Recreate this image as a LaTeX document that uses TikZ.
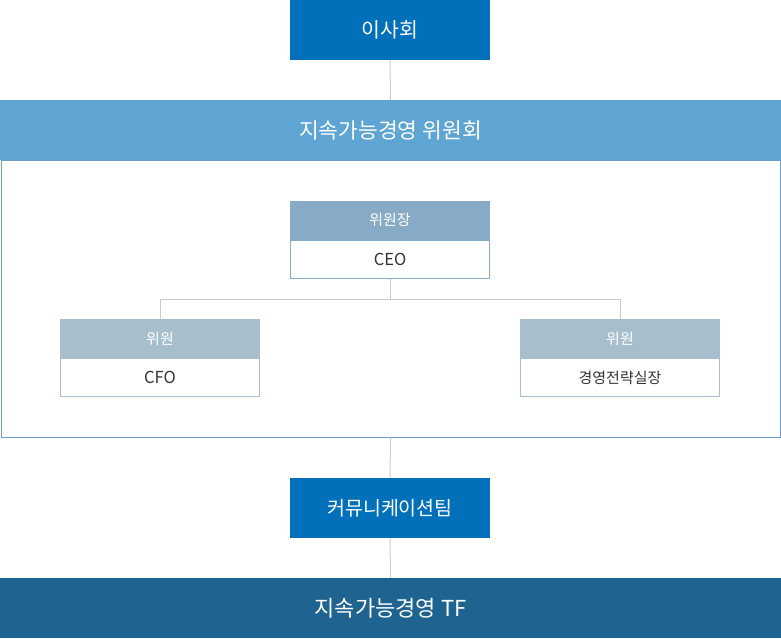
\documentclass[tikz,border=0pt]{standalone}
\usepackage{fontspec}
\setmainfont{Noto Sans CJK KR}
\definecolor{mainblue}{RGB}{0,112,186}
\definecolor{commblue}{RGB}{94,165,211}
\definecolor{framecol}{RGB}{106,156,200}
\definecolor{chairhead}{RGB}{135,170,198}
\definecolor{memhead}{RGB}{167,190,205}
\definecolor{tfblue}{RGB}{31,100,145}
\definecolor{linegray}{RGB}{204,204,204}
\definecolor{txt}{RGB}{51,51,51}
\begin{document}
\begin{tikzpicture}[x=1pt,y=-1pt,
  bar/.style={draw=none,inner sep=0pt,minimum width=#1,text=white},
  bigbox/.style={bar=200pt,fill=mainblue,minimum height=60pt},
  wide/.style={bar=781pt,minimum height=60pt,font=\fontsize{21.5}{24}\selectfont},
  headbox/.style={inner sep=0pt,minimum width=200pt,minimum height=39pt,text=white,font=\fontsize{15}{17}\selectfont},
  bodybox/.style={inner sep=0pt,minimum width=199pt,minimum height=38pt,fill=white,text=txt,font=\fontsize{15}{17}\selectfont},
  latin/.style={font=\fontsize{16.5}{18}\selectfont},
  conn/.style={draw=linegray,line width=1pt}]
\useasboundingbox (0,0) rectangle (781,638);
% frame
\node[draw=framecol,line width=1pt,inner sep=0pt,minimum width=779pt,minimum height=277pt] (frame) at (390.5,298.5) {};
% top
\node[bigbox,font=\fontsize{20.5}{23}\selectfont] (board) at (390,30) {이사회};
\node[wide,fill=commblue] (committee) at (390.5,130) {지속가능경영 위원회};
\draw[conn] (board.south) -- (committee.north);
% chair
\node[headbox,fill=chairhead] (chairh) at (390,220) {위원장};
\node[bodybox,latin,draw=chairhead,line width=1pt,anchor=north] (ceo) at (chairh.south) {CEO};
% members
\node[headbox,fill=memhead] (cfoh) at (160,338.5) {위원};
\node[bodybox,latin,draw=memhead,line width=1pt,anchor=north] (cfo) at (cfoh.south) {CFO};
\node[headbox,fill=memhead] (stratH) at (620,338.5) {위원};
\node[bodybox,draw=memhead,line width=1pt,anchor=north] (strat) at (stratH.south) {경영전략실장};
\coordinate (junc) at (390,299);
\draw[conn] (ceo.south) -- (junc);
\draw[conn] (junc) -| (cfoh.north);
\draw[conn] (junc) -| (stratH.north);
% bottom
\node[bigbox,font=\fontsize{19.5}{22}\selectfont] (comm) at (390,508) {커뮤니케이션팀};
\node[wide,fill=tfblue,font=\fontsize{22}{25}\selectfont] (tf) at (390.5,608) {지속가능경영 TF};
\draw[conn] (frame.south) -- (comm.north);
\draw[conn] (comm.south) -- (tf.north);
\end{tikzpicture}
\end{document}
